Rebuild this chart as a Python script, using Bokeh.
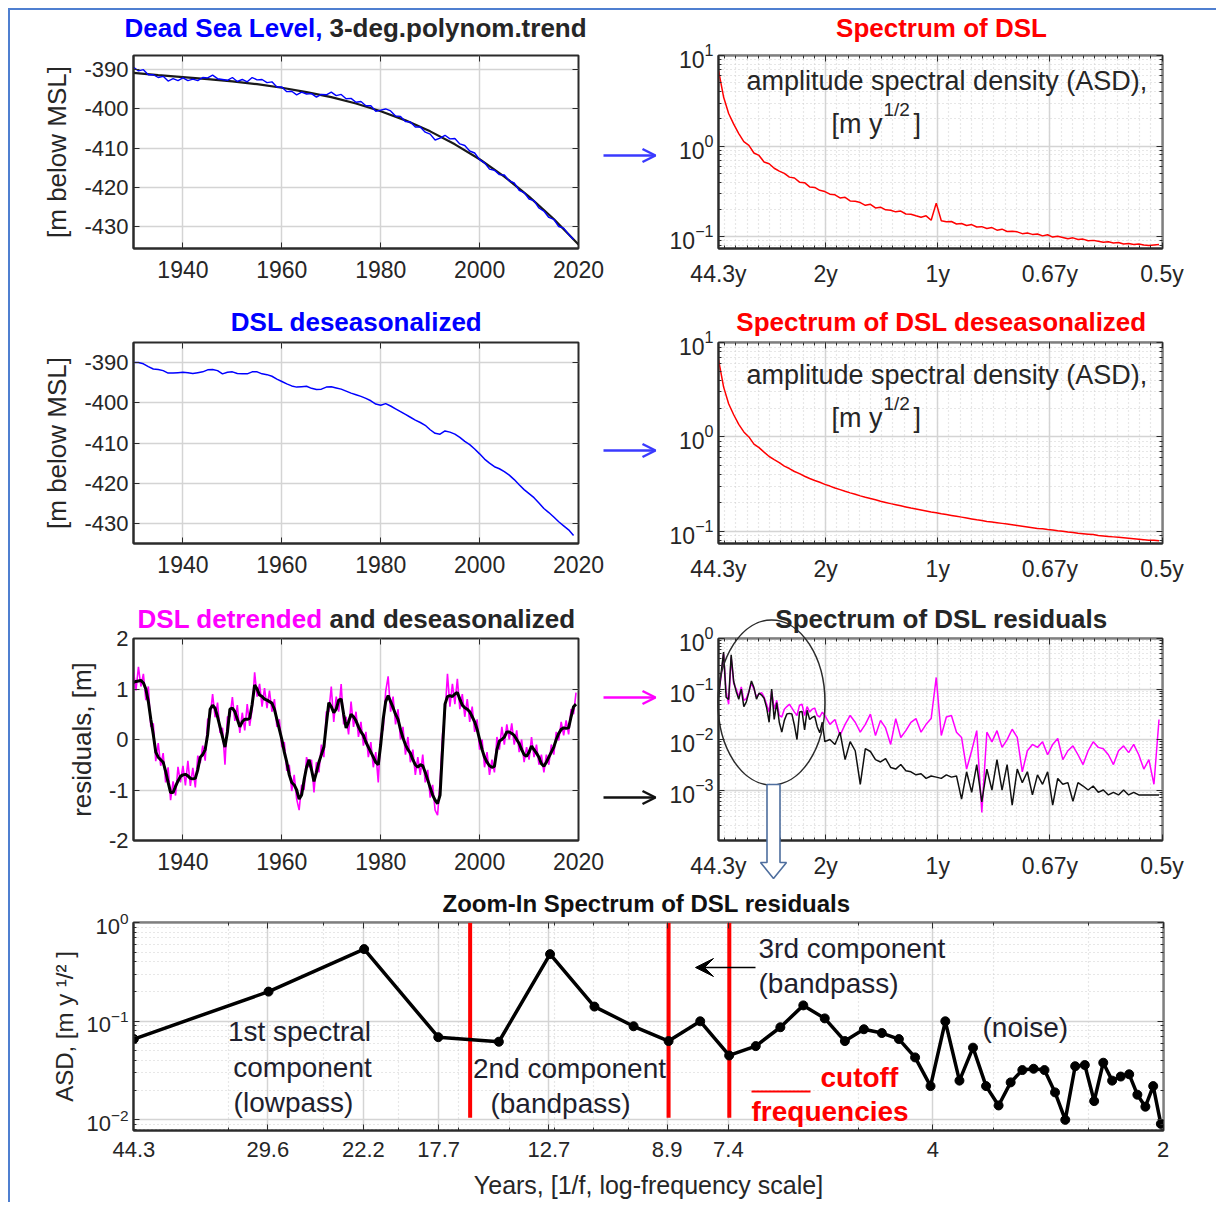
import numpy as np
from bokeh.plotting import figure
from bokeh.layouts import row, column
from bokeh.models import (Range1d, FixedTicker, Label, Arrow, OpenHead, VeeHead,
                          LinearAxis, LogAxis, CustomLabelingPolicy)
from bokeh.embed import file_html
from bokeh.resources import INLINE

FONT = "Liberation Sans"
INK = "#262626"
BLUE = "#0000ff"
RED = "#ff0000"
MAGENTA = "#ff00ff"

# ------------------------------------------------------------------ data
trend_years = [1930, 1935, 1940, 1945, 1950, 1955, 1960, 1965, 1970, 1975,
               1980, 1985, 1990, 1995, 2000, 2005, 2010, 2015, 2020]
trend_level = [-390.8, -391.4, -391.9, -392.4, -393.0, -393.7, -394.6, -395.7,
               -397.0, -398.6, -400.6, -402.9, -405.7, -409.0, -412.8, -417.2,
               -422.3, -428.0, -434.5]

level_years = list(range(1930, 2020))
raw_level = [-389.4, -390.3, -390.0, -391.3, -391.3, -392.0, -391.7, -392.9, -392.3, -392.8,
             -392.1, -392.8, -392.4, -392.8, -392.0, -392.1, -391.4, -392.3, -392.5, -392.7,
             -392.0, -393.0, -392.5, -393.1, -392.0, -392.6, -392.5, -393.3, -393.1, -394.4,
             -394.4, -395.6, -395.5, -396.4, -395.7, -396.2, -396.1, -397.0, -396.3, -396.4,
             -395.7, -396.6, -396.3, -397.4, -397.3, -398.3, -398.1, -399.2, -399.2, -400.6,
             -400.3, -400.0, -400.5, -401.8, -401.9, -403.2, -403.3, -404.6, -404.6, -405.9,
             -406.4, -407.9, -407.4, -406.7, -407.6, -407.5, -408.9, -409.3, -410.7, -411.2,
             -412.9, -413.7, -415.3, -415.6, -416.7, -416.8, -418.3, -418.8, -420.7, -421.3,
             -422.9, -423.3, -425.2, -426.0, -427.6, -428.1, -429.9, -430.3, -431.9, -433.2]
desea_level = [-390.0, -390.0, -390.3, -391.0, -391.6, -391.7, -392.0, -392.6, -392.6, -392.5,
               -392.4, -392.5, -392.7, -392.5, -392.3, -391.8, -391.7, -392.0, -392.8, -392.4,
               -392.3, -392.7, -392.8, -392.8, -392.3, -392.3, -392.8, -393.0, -393.4, -394.1,
               -394.7, -395.3, -395.8, -396.1, -396.0, -395.9, -396.4, -396.7, -396.6, -396.1,
               -396.0, -396.3, -396.6, -397.1, -397.6, -398.0, -398.4, -398.9, -399.5, -400.3,
               -400.6, -400.2, -400.8, -401.5, -402.2, -402.9, -403.6, -404.3, -404.9, -405.6,
               -406.7, -407.6, -407.8, -407.0, -407.3, -407.8, -408.6, -409.6, -410.4, -411.5,
               -412.7, -414.0, -415.0, -415.9, -416.4, -417.1, -418.0, -419.1, -420.4, -421.6,
               -422.6, -423.6, -424.9, -426.3, -427.3, -428.4, -429.6, -430.6, -431.6, -433.0]

resid_years = list(np.arange(1930.0, 2020.0, 0.5))
resid_deseason = [1.13, 1.15, 1.16, 1.17, 1.12, 1.00, 0.75, 0.40, 0.10, -0.25,
                  -0.35, -0.40, -0.45, -0.63, -0.85, -1.05, -1.05, -0.93, -0.82, -0.73,
                  -0.70, -0.69, -0.72, -0.77, -0.78, -0.77, -0.60, -0.35, -0.30, -0.20,
                  0.10, 0.60, 0.68, 0.62, 0.45, 0.25, 0.05, -0.15, 0.15, 0.60,
                  0.62, 0.55, 0.40, 0.25, 0.35, 0.40, 0.40, 0.42, 0.70, 1.08,
                  1.00, 0.88, 0.85, 0.80, 0.78, 0.75, 0.72, 0.60, 0.40, 0.20,
                  0.00, -0.25, -0.45, -0.70, -0.85, -0.90, -1.00, -1.18, -1.10, -0.80,
                  -0.55, -0.40, -0.60, -0.83, -0.65, -0.45, -0.30, -0.15, 0.30, 0.73,
                  0.65, 0.53, 0.60, 0.78, 0.80, 0.50, 0.23, 0.35, 0.50, 0.45,
                  0.37, 0.25, 0.15, 0.08, -0.05, -0.15, -0.25, -0.35, -0.45, -0.50,
                  -0.10, 0.40, 0.75, 0.87, 0.75, 0.63, 0.50, 0.40, 0.20, 0.03,
                  -0.10, -0.20, -0.27, -0.40, -0.50, -0.55, -0.50, -0.52, -0.65, -0.80,
                  -0.95, -1.10, -1.20, -1.27, -1.10, -0.20, 0.70, 0.85, 0.87, 0.85,
                  0.90, 0.93, 0.80, 0.68, 0.63, 0.60, 0.55, 0.45, 0.35, 0.20,
                  0.00, -0.20, -0.35, -0.45, -0.52, -0.55, -0.53, -0.20, -0.03, 0.00,
                  0.05, 0.15, 0.15, 0.12, 0.08, 0.00, -0.08, -0.20, -0.30, -0.33,
                  -0.25, -0.13, -0.20, -0.27, -0.35, -0.48, -0.53, -0.45, -0.35, -0.25,
                  -0.15, 0.00, 0.12, 0.20, 0.23, 0.22, 0.23, 0.45, 0.65, 0.70]
resid_seasonal = [1.35, 0.97, 1.44, 1.05, 1.30, 0.78, 1.05, 0.25, 0.32, -0.43,
                  -0.07, -0.52, -0.27, -0.85, -0.55, -1.20, -0.83, -1.11, -0.54, -0.85,
                  -0.52, -0.91, -0.42, -0.92, -0.56, -0.95, -0.32, -0.47, -0.12, -0.42,
                  0.40, 0.45, 0.90, 0.44, 0.73, 0.13, 0.23, -0.50, 0.45, 0.45,
                  0.84, 0.37, 0.68, 0.13, 0.53, 0.18, 0.70, 0.27, 0.60, 1.33,
                  0.85, 1.10, 0.65, 1.02, 0.62, 0.97, 0.55, 0.80, 0.25, 0.40,
                  -0.15, -0.05, -0.62, -0.50, -1.02, -0.70, -1.18, -1.40, -0.90, -1.00,
                  -0.35, -0.55, -0.40, -1.05, -0.45, -0.65, -0.10, -0.35, 0.55, 0.55,
                  1.05, 0.35, 0.85, 0.55, 1.10, 0.30, 0.45, 0.10, 0.75, 0.25,
                  0.55, 0.05, 0.35, -0.12, 0.15, -0.35, -0.05, -0.55, -0.25, -0.85,
                  0.10, 0.20, 0.95, 1.25, 0.55, 0.85, 0.30, 0.60, 0.00, 0.25,
                  -0.30, 0.05, -0.45, -0.20, -0.70, -0.35, -0.70, -0.30, -0.85, -0.60,
                  -1.15, -0.90, -1.40, -1.50, -0.85, 0.10, 0.50, 1.30, 0.65, 1.10,
                  0.70, 1.20, 0.60, 0.90, 0.45, 0.80, 0.35, 0.65, 0.15, 0.40,
                  -0.20, 0.00, -0.55, -0.25, -0.70, -0.40, -0.65, 0.05, -0.20, 0.25,
                  -0.10, 0.30, 0.00, 0.32, -0.10, 0.18, -0.25, 0.00, -0.45, -0.15,
                  -0.40, 0.05, -0.35, -0.10, -0.50, -0.30, -0.65, -0.30, -0.50, -0.10,
                  -0.30, 0.15, -0.02, 0.35, 0.08, 0.38, 0.10, 0.60, 0.50, 0.93]

RECORD_YEARS = 88.6          # spectral bins are k / RECORD_YEARS cycles per year
dsl_asd = [6.9, 3.5, 2.3, 1.75, 1.38, 1.12, 1.02, 0.84, 0.79, 0.67,
           0.64, 0.57, 0.53, 0.50, 0.455, 0.445, 0.40, 0.395, 0.355, 0.35,
           0.325, 0.315, 0.295, 0.29, 0.268, 0.272, 0.248, 0.246, 0.238, 0.222,
           0.228, 0.208, 0.212, 0.198, 0.196, 0.188, 0.192, 0.178, 0.177, 0.17,
           0.164, 0.17, 0.152, 0.235, 0.15, 0.146, 0.147, 0.138, 0.14, 0.133,
           0.136, 0.128, 0.129, 0.123, 0.126, 0.118, 0.121, 0.114, 0.115, 0.113,
           0.108, 0.11, 0.106, 0.107, 0.102, 0.105, 0.099, 0.101, 0.098, 0.095,
           0.097, 0.093, 0.094, 0.09, 0.091, 0.089, 0.087, 0.088, 0.085, 0.086,
           0.083, 0.084, 0.082, 0.083, 0.081, 0.08, 0.081, 0.082]
desea_asd = [6.6, 3.4, 2.25, 1.72, 1.36, 1.13, 1.0, 0.84, 0.77, 0.69,
             0.62, 0.575, 0.535, 0.49, 0.462, 0.43, 0.408, 0.383, 0.362, 0.345,
             0.33, 0.314, 0.301, 0.287, 0.276, 0.265, 0.255, 0.246, 0.237, 0.229,
             0.222, 0.215, 0.208, 0.202, 0.196, 0.191, 0.186, 0.181, 0.176, 0.172,
             0.168, 0.164, 0.16, 0.157, 0.153, 0.15, 0.147, 0.144, 0.141, 0.138,
             0.135, 0.132, 0.13, 0.127, 0.125, 0.123, 0.121, 0.119, 0.117, 0.115,
             0.113, 0.111, 0.109, 0.107, 0.106, 0.104, 0.103, 0.101, 0.1, 0.098,
             0.097, 0.095, 0.094, 0.093, 0.092, 0.09, 0.089, 0.088, 0.087, 0.086,
             0.085, 0.084, 0.083, 0.082, 0.081, 0.08, 0.08, 0.079]
main_k = list(range(2, 178, 2))

resid_k = list(range(2, 45)) + list(range(46, 177, 2))
resid_asd_black = [0.066, 0.20, 0.54, 0.069, 0.062, 0.48, 0.141, 0.089, 0.063, 0.10,
                   0.045, 0.056, 0.087, 0.145, 0.107, 0.063, 0.083, 0.076, 0.066, 0.043,
                   0.022, 0.10, 0.025, 0.054, 0.022, 0.014, 0.024, 0.032, 0.033, 0.032,
                   0.019, 0.010, 0.035, 0.036, 0.0155, 0.038, 0.025, 0.0275, 0.029, 0.018,
                   0.0136, 0.022, 0.0091,
                   0.01, 0.008, 0.014, 0.004, 0.0091, 0.006, 0.0013, 0.0066, 0.0058, 0.004,
                   0.0036, 0.0042, 0.0028, 0.0026, 0.0032, 0.0024, 0.0023, 0.002, 0.0021, 0.0017,
                   0.0019, 0.0018, 0.0017, 0.002, 0.0018, 0.0019, 0.00066, 0.0023, 0.0009, 0.0032,
                   0.00058, 0.0026, 0.001, 0.004, 0.001, 0.0032, 0.0005, 0.0026, 0.0014, 0.0023,
                   0.0008, 0.002, 0.0013, 0.0023, 0.0005, 0.0017, 0.0013, 0.0014, 0.0006, 0.0014,
                   0.0012, 0.001, 0.0012, 0.0009, 0.001, 0.0008, 0.0009, 0.0008, 0.001, 0.0008,
                   0.0009, 0.0008, 0.0008, 0.0008, 0.0008, 0.0008]
resid_asd_magenta = [0.08, 0.17, 0.5, 0.09, 0.05, 0.42, 0.13, 0.1, 0.07, 0.11,
                     0.06, 0.065, 0.09, 0.13, 0.1, 0.07, 0.08, 0.085, 0.07, 0.05,
                     0.035, 0.09, 0.04, 0.06, 0.03, 0.028, 0.04, 0.045, 0.05, 0.042,
                     0.035, 0.03, 0.048, 0.05, 0.03, 0.045, 0.035, 0.04, 0.042, 0.03,
                     0.028, 0.035, 0.03,
                     0.02, 0.025, 0.012, 0.02, 0.03, 0.022, 0.014, 0.02, 0.032, 0.012,
                     0.024, 0.017, 0.008, 0.026, 0.011, 0.015, 0.022, 0.026, 0.014, 0.02,
                     0.026, 0.17, 0.012, 0.028, 0.03, 0.014, 0.011, 0.0026, 0.006, 0.015,
                     0.00036, 0.014, 0.009, 0.015, 0.007, 0.01, 0.016, 0.011, 0.0023, 0.006,
                     0.008, 0.007, 0.009, 0.005, 0.008, 0.0105, 0.004, 0.006, 0.0075, 0.005,
                     0.0032, 0.006, 0.009, 0.007, 0.0066, 0.005, 0.0032, 0.006, 0.0075, 0.0055,
                     0.008, 0.005, 0.0026, 0.004, 0.0013, 0.025]
ZOOM_BINS = 43                      # bins k = 2 .. 44 shown in the zoom-in panel

time_ticks = [1940, 1960, 1980, 2000, 2020]
level_ticks = [-430, -420, -410, -400, -390]
resid_ticks = [-2, -1, 0, 1, 2]
spec_tick_freq = [1 / 44.3, 0.5, 1.0, 1.5, 2.0]
spec_tick_text = ["44.3y", "2y", "1y", "0.67y", "0.5y"]
zoom_tick_periods = [44.3, 29.6, 22.2, 17.7, 12.7, 8.9, 7.4, 4, 2]
cutoff_periods = [16.1, 8.86, 7.38]
cutoff_asd_span = [0.0105, 1.0]


def decade_minors(lo_exp, hi_exp):
    return [m * 10.0 ** e for e in range(lo_exp, hi_exp) for m in range(2, 10)]


# ------------------------------------------------------------------ helpers
def make_fig(width, height, left, right, top, bottom, xr, yr, xtype="linear", ytype="linear"):
    p = figure(width=width, height=height, x_range=xr, y_range=yr,
               x_axis_type=xtype, y_axis_type=ytype, title=None,
               min_border_left=left, min_border_right=right,
               min_border_top=top, min_border_bottom=bottom,
               output_backend="svg", toolbar_location=None)
    p.background_fill_color = "white"
    p.border_fill_alpha = 0
    p.outline_line_color = "#2b2b2b"
    p.outline_line_width = 2
    p.grid.grid_line_color = "#d4d4d4"
    p.grid.grid_line_width = 1.5
    return p


def style_axis(ax, size=23):
    ax.major_label_text_font = FONT
    ax.major_label_text_font_size = f"{size}px"
    ax.major_label_text_color = INK
    ax.axis_line_color = "#2b2b2b"
    ax.axis_line_width = 2
    ax.major_tick_in = 6
    ax.major_tick_out = 0
    ax.minor_tick_in = 3
    ax.minor_tick_out = 0
    ax.major_tick_line_color = "#2b2b2b"
    ax.minor_tick_line_color = "#2b2b2b"
    ax.axis_label_text_font = FONT
    ax.axis_label_text_font_style = "normal"
    ax.axis_label_text_color = INK
    ax.axis_label_text_font_size = "26px"


HIDE_ALL = "for (const i of Array.from(indices)) { indices.unset(i) }"


def box_ticks(p, xticker, yticker, xlog=False, ylog=False):
    """MATLAB-style 'box on': inward ticks on the top and right edges, no labels."""
    for loc, ticker, is_log in (("above", xticker, xlog), ("right", yticker, ylog)):
        ax = (LogAxis if is_log else LinearAxis)(ticker=ticker)
        ax.major_label_policy = CustomLabelingPolicy(code=HIDE_ALL)
        ax.major_label_text_font_size = "2px"
        ax.major_label_standoff = 0
        ax.major_tick_in = 6
        ax.major_tick_out = 0
        ax.minor_tick_in = 3
        ax.minor_tick_out = 0
        ax.axis_line_color = None
        ax.major_tick_line_color = "#2b2b2b"
        ax.minor_tick_line_color = "#2b2b2b"
        p.add_layout(ax, loc)


def label(p, x, y, text, size, color=INK, bold=False, align="left", units="screen"):
    p.add_layout(Label(x=x, y=y, x_units=units, y_units=units, text=text,
                       text_font=FONT, text_font_size=f"{size}px", text_color=color,
                       text_font_style="bold" if bold else "normal",
                       text_align=align, text_baseline="middle"))


LW, LB, LR = 650, 123, 82      # left column figure width, borders
RW, RB, RR = 544, 58, 42       # right column figure width, borders


def time_fig(height, top, bottom, yr, yticks, ylabel):
    p = make_fig(LW, height, LB, LR, top, bottom, Range1d(1930, 2020), yr)
    xt = FixedTicker(ticks=time_ticks, minor_ticks=[])
    yt = FixedTicker(ticks=yticks, minor_ticks=[])
    p.xaxis.ticker = xt
    p.yaxis.ticker = yt
    p.yaxis.major_label_overrides = {v: str(v) for v in yticks}
    for ax in p.axis:
        style_axis(ax)
    p.yaxis.major_label_text_font_size = "22px"
    p.xaxis.major_label_standoff = 12
    p.yaxis.axis_label = ylabel
    p.yaxis.axis_label_standoff = 9
    box_ticks(p, xt, yt)
    return p


def spec_fig(height, top, bottom, yr, ydec, ymin_exp, ymax_exp):
    p = make_fig(RW, height, RB, RR, top, bottom, Range1d(0.02255, 2.002), yr, ytype="log")
    xt = FixedTicker(ticks=spec_tick_freq, minor_ticks=[0.05 * i for i in range(1, 40)])
    yt = FixedTicker(ticks=ydec, minor_ticks=decade_minors(ymin_exp, ymax_exp))
    p.xaxis.ticker = xt
    p.yaxis.ticker = yt
    p.xaxis.major_label_overrides = dict(zip(spec_tick_freq, spec_tick_text))
    for ax in p.axis:
        style_axis(ax)
    p.xaxis.major_label_standoff = 12
    p.grid.minor_grid_line_color = "#cfcfcf"
    p.grid.minor_grid_line_dash = "1 3"
    p.grid.minor_grid_line_width = 1.2
    box_ticks(p, xt, yt, ylog=True)
    return p


def asd_note(p, dy):
    label(p, 28, 168 + dy, "amplitude spectral density (ASD),", 27)
    label(p, 113, 125 + dy, "[m y", 27)
    label(p, 165, 139 + dy, "1/2", 19)
    label(p, 195, 125 + dy, "]", 27)


main_freq = np.array(main_k) / RECORD_YEARS
resid_freq = np.array(resid_k) / RECORD_YEARS

# ------------------------------------------------------------------ row 1
p1 = time_fig(287, 45, 49, Range1d(-435.5, -386.4), level_ticks, "[m below MSL]")
p1.line(trend_years, trend_level, line_color="#1a1a1a", line_width=2.2)
p1.line(level_years, raw_level, line_color=BLUE, line_width=1.4)

p2 = spec_fig(287, 35, 49, Range1d(0.074, 10.05), [0.1, 1, 10], -2, 1)
p2.line(main_freq, dsl_asd, line_color=RED, line_width=1.5)
asd_note(p2, 0)

# ------------------------------------------------------------------ row 2
p3 = time_fig(293, 45, 47, Range1d(-435.0, -385.0), level_ticks, "[m below MSL]")
p3.line(level_years, desea_level, line_color=BLUE, line_width=1.5)

p4 = spec_fig(293, 43, 47, Range1d(0.074, 10.05), [0.1, 1, 10], -2, 1)
p4.line(main_freq, desea_asd, line_color=RED, line_width=1.5)
asd_note(p4, 1)

# ------------------------------------------------------------------ row 3
p5 = time_fig(295, 48, 45, Range1d(-2, 2), resid_ticks, "residuals, [m]")
p5.line(resid_years, resid_seasonal, line_color=MAGENTA, line_width=1.6)
p5.line(resid_years, resid_deseason, line_color="black", line_width=3)

p6 = spec_fig(295, 46, 45, Range1d(1e-4, 1.005), [1e-3, 1e-2, 1e-1, 1], -4, 0)
p6.line(resid_freq, resid_asd_magenta, line_color=MAGENTA, line_width=1.5)
p6.line(resid_freq, resid_asd_black, line_color="#111111", line_width=1.5)

# ------------------------------------------------------------------ row 4
p7 = make_fig(1206, 317, 123, 53, 37, 72, Range1d(0.02255, 0.5006), Range1d(0.0078, 1.005),
              xtype="log", ytype="log")
zoom_freq = [1.0 / v for v in zoom_tick_periods]
xt7 = FixedTicker(ticks=zoom_freq,
                  minor_ticks=[0.03, 0.04, 0.05, 0.06, 0.07, 0.08, 0.09, 0.1, 0.2, 0.3, 0.4])
yt7 = FixedTicker(ticks=[0.01, 0.1, 1], minor_ticks=decade_minors(-3, 0))
p7.xaxis.ticker = xt7
p7.yaxis.ticker = yt7
p7.xaxis.major_label_overrides = {f: (f"{v:g}") for f, v in zip(zoom_freq, zoom_tick_periods)}
for ax in p7.axis:
    style_axis(ax, 22)
p7.xaxis.major_label_standoff = 11
p7.xaxis.axis_label = "Years, [1/f, log-frequency scale]"
p7.xaxis.axis_label_text_font_size = "25px"
p7.xaxis.axis_label_standoff = 11
p7.yaxis.axis_label = "ASD, [m y \u00b9/\u00b2 ]"
p7.yaxis.axis_label_text_font_size = "24px"
p7.yaxis.axis_label_standoff = 5
p7.grid.minor_grid_line_color = "#cfcfcf"
p7.grid.minor_grid_line_dash = "1 3"
p7.grid.minor_grid_line_width = 1.2
box_ticks(p7, xt7, yt7, xlog=True, ylog=True)

zf = resid_freq[:ZOOM_BINS]
za = resid_asd_black[:ZOOM_BINS]
cut_f = [1.0 / v for v in cutoff_periods]
p7.segment(x0=cut_f, x1=cut_f, y0=[cutoff_asd_span[0]] * 3, y1=[cutoff_asd_span[1]] * 3,
           line_color=RED, line_width=4)
p7.line(zf, za, line_color="black", line_width=3.5)
p7.scatter(zf, za, size=9, fill_color="black", line_color="black")
NOTE = "#1f1f2e"
label(p7, 166, 99, "1st spectral", 28, NOTE, False, "center")
label(p7, 169, 63, "component", 28, NOTE, False, "center")
label(p7, 160, 28, "(lowpass)", 28, NOTE, False, "center")
label(p7, 436, 62, "2nd component", 28, NOTE, False, "center")
label(p7, 427, 27, "(bandpass)", 28, NOTE, False, "center")
label(p7, 625, 182, "3rd component", 28, NOTE)
label(p7, 625, 147, "(bandpass)", 28, NOTE)
label(p7, 849, 103, "(noise)", 28, NOTE)
label(p7, 687, 53, "cutoff", 28, RED, True)
label(p7, 618, 19, "frequencies", 28, RED, True)
p7.add_layout(Arrow(end=None, x_start=618, y_start=39, x_end=677, y_end=39,
                    start_units="screen", end_units="screen",
                    line_color=RED, line_width=2))
p7.add_layout(Arrow(end=VeeHead(size=18, fill_color="black", line_color="black"),
                    x_start=622, y_start=163, x_end=562, y_end=163,
                    start_units="screen", end_units="screen",
                    line_color="black", line_width=1.5))

main = column(row(p1, p2), row(p3, p4), row(p5, p6), p7)

# ------------------------------------------------------------------ overlay (titles, arrows, highlight)
OV_W, OV_H = 1194, 287 + 293 + 295 + 317
OX, OY = 10, 10        # page offset of the layout content
ov = figure(width=OV_W, height=OV_H, x_range=Range1d(0, OV_W), y_range=Range1d(OV_H, 0),
            x_axis_location=None, y_axis_location=None, title=None, min_border=0,
            output_backend="svg", toolbar_location=None)
ov.grid.visible = False
ov.outline_line_color = None
ov.background_fill_alpha = 0
ov.border_fill_alpha = 0
ov.margin = (-OV_H, 0, 0, 0)


def ov_text(x, y, text, size, color, bold=True, align="center"):
    label(ov, x - OX, y - OY, text, size, color, bold, align, units="data")


def ov_arrow(x0, x1, y, color):
    ov.add_layout(Arrow(end=OpenHead(size=13, line_color=color, line_width=2.5),
                        x_start=x0 - OX, y_start=y - OY, x_end=x1 - OX, y_end=y - OY,
                        line_color=color, line_width=2.5))


ov_text(322, 27, "Dead Sea Level,", 26, BLUE, align="right")
ov_text(329, 27, "3-deg.polynom.trend", 26, INK, align="left")
ov_text(941, 27, "Spectrum of DSL", 26, RED)
ov_text(356, 321, "DSL deseasonalized", 26, BLUE)
ov_text(941, 321, "Spectrum of DSL deseasonalized", 26, RED)
ov_text(322, 618, "DSL detrended", 26, MAGENTA, align="right")
ov_text(329, 618, "and deseasonalized", 26, INK, align="left")
ov_text(941, 618, "Spectrum of DSL residuals", 26, INK)
ov_text(646, 903, "Zoom-In Spectrum of DSL residuals", 24, "#111111")

ov_arrow(603, 655, 155, "#3a3aff")
ov_arrow(603, 655, 450, "#3a3aff")
ov_arrow(603, 655, 697, MAGENTA)
ov_arrow(603, 655, 797, "#111111")

ov.ellipse(x=[771 - OX], y=[702 - OY], width=107, height=165,
           fill_alpha=0, line_color="#2a2a2a", line_width=1.5)
hx = [766.5, 779.5, 779.5, 786, 773, 760, 766.5]
hy = [784, 784, 862, 862, 878, 862, 862]
ov.patch([v - OX for v in hx], [v - OY for v in hy],
         fill_color="white", line_color="#4e6e9e", line_width=1.6)

layout = column(main, ov,
                styles={"margin-left": "8px", "margin-top": "8px",
                        "border-left": "2px solid #4f7fd0", "border-top": "2px solid #4f7fd0"})

open("out.html", "w").write(file_html(layout, INLINE))
